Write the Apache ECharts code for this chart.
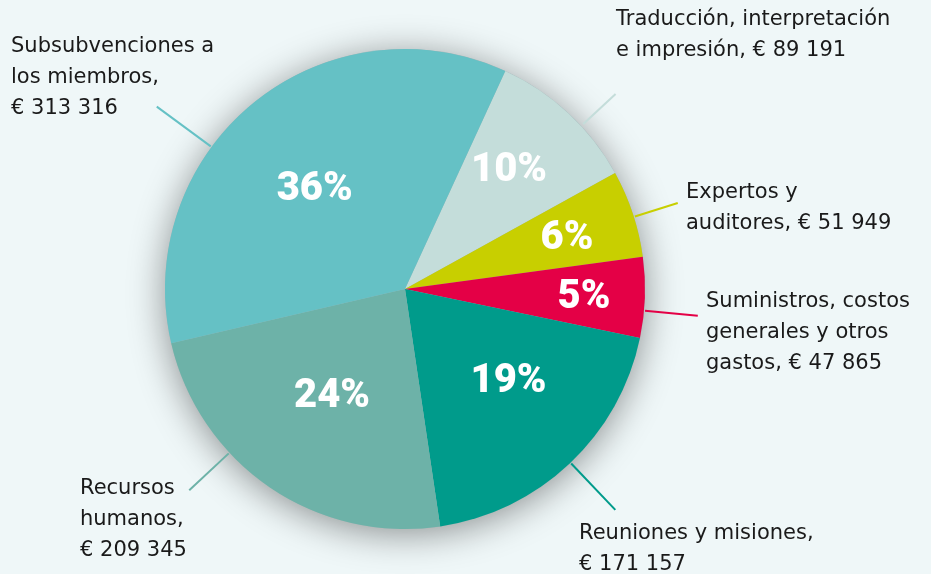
<!DOCTYPE html>
<html><head><meta charset="utf-8">
<script src="https://cdn.jsdelivr.net/npm/echarts@6/dist/echarts.min.js"></script>
<style>html,body{margin:0;padding:0;background:#eff7f8;}#c{width:931px;height:574px;}</style>
</head><body><div id="c"></div>
<script>
// ---- data (clockwise from the top) ----
const categories = [
  'Traducción, interpretación\ne impresión',
  'Expertos y\nauditores',
  'Suministros, costos\ngenerales y otros\ngastos',
  'Reuniones y misiones',
  'Recursos\nhumanos',
  'Subsubvenciones a\nlos miembros'
];
const values = [89191, 51949, 47865, 171157, 209345, 313316];
const valueBreaks = [' ', ' ', ' ', '\n', '\n', '\n'];

// ---- styles / layout ----
const colors = ['#c4ddda', '#c8cf00', '#e40046', '#009b8b', '#6db2a8', '#65c1c5'];
const CX = 405, CY = 289, R = 240;
const innerOffsets = [[104, -118], [162, -50], [179, 9], [103.5, 92.7], [-73, 107.7], [-90.3, -99]];
const outerTopLeft = [[616, 4.5], [686, 177], [706, 286.5], [579, 518], [80, 473], [11, 31.5]];
const outerLines = [[42.8, 243, 287], [17.5, 241, 286], [-5.2, 241, 294], [-46.4, 241, 305], [223, 241, 295], [143.7, 241, 308]];

function fmt(v) { return v.toString().replace(/\B(?=(\d{3})+(?!\d))/g, ' '); }
function polar(a, r) { const t = a * Math.PI / 180; return [CX + r * Math.cos(t), CY - r * Math.sin(t)]; }

const total = values.reduce((a, b) => a + b, 0);
const pieData = categories.map((c, i) => ({ name: c, value: values[i], itemStyle: { color: colors[i] } }));
const labelData = categories.map((c, i) => ({
  name: c, value: values[i],
  labelLine: { lineStyle: { color: colors[i], width: 2 } }
}));

const chart = echarts.init(document.getElementById('c'), null, { renderer: 'canvas' });
chart.setOption({
  backgroundColor: '#eff7f8',
  animation: false,
  series: [
    {
      type: 'pie', silent: true, z: 1,
      center: [CX, CY], radius: R,
      label: { show: false }, labelLine: { show: false },
      itemStyle: { color: '#9fb6b8', borderWidth: 0, shadowBlur: 36, shadowColor: 'rgba(0,0,0,0.42)', shadowOffsetY: 5 },
      data: [{ value: total }]
    },
    {
      type: 'pie', silent: true, z: 2,
      center: [CX, CY], radius: R, startAngle: 65.3, clockwise: true,
      percentPrecision: 0, avoidLabelOverlap: false,
      itemStyle: { borderWidth: 0 },
      label: {
        show: true, position: 'inside', formatter: '{d}%',
        color: '#ffffff', fontFamily: 'Roboto', fontWeight: 900, fontSize: 40
      },
      labelLine: { show: false },
      labelLayout: function (p) {
        const o = innerOffsets[p.dataIndex];
        return { x: CX + o[0], y: CY + o[1], align: 'center', verticalAlign: 'middle' };
      },
      data: pieData
    },
    {
      type: 'pie', silent: true, z: 3,
      center: [CX, CY], radius: R, startAngle: 65.3, clockwise: true,
      avoidLabelOverlap: false,
      itemStyle: { color: 'rgba(0,0,0,0)', borderWidth: 0 },
      label: {
        show: true, position: 'outside',
        formatter: function (p) { return p.name + ',' + valueBreaks[p.dataIndex] + '€ ' + fmt(p.value); },
        color: '#1a1a1a', fontFamily: 'DejaVu Sans', fontSize: 21, lineHeight: 31, align: 'left'
      },
      labelLine: { show: true, length: 20, length2: 0, smooth: false },
      labelLayout: function (p) {
        const i = p.dataIndex;
        const l = outerLines[i];
        return {
          x: outerTopLeft[i][0], y: outerTopLeft[i][1], align: 'left', verticalAlign: 'top',
          labelLinePoints: [polar(l[0], l[1]), polar(l[0], l[2])]
        };
      },
      data: labelData
    }
  ]
});
</script>
</body></html>
